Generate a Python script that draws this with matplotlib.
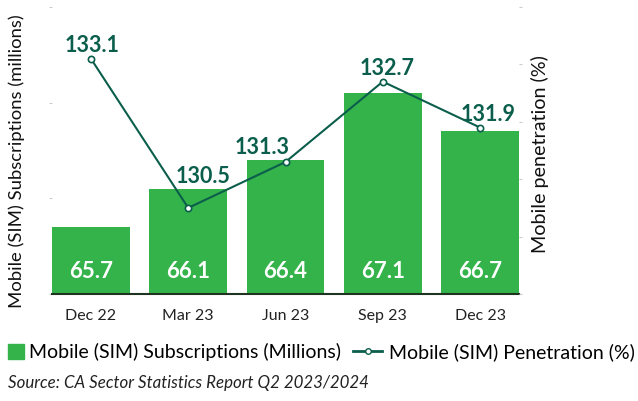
import matplotlib.pyplot as plt
import numpy as np
from matplotlib.lines import Line2D
from matplotlib.patches import Patch

# data
quarters = ["Dec 22", "Mar 23", "Jun 23", "Sep 23", "Dec 23"]
subscriptions = [65.7, 66.1, 66.4, 67.1, 66.7]
penetration = [133.1, 130.5, 131.3, 132.7, 131.9]

bar_color = "#33b34a"
line_color = "#0b5e4c"
# sideways nudge of the penetration labels (points) so they clear the line
label_dx = [0.5, 11, -16.5, 3, 6]

plt.rcParams['font.family'] = ['Lato', 'DejaVu Sans']

fig = plt.figure(figsize=(6.38, 4.01), dpi=100)
ax = fig.add_axes([52 / 638, 1 - 294 / 401, 467 / 638, 287 / 401])
ax2 = ax.twinx()

x = np.arange(len(quarters))
ax.bar(x, subscriptions, width=0.8, color=bar_color, zorder=2)
ax.set_xlim(-0.4, len(quarters) - 0.6)
ax.set_ylim(65, 68)
ax.set_yticks([65, 66, 67, 68])
ax.set_xticks(x)
ax.set_xticklabels(quarters, fontsize=11.5)
ax.tick_params(axis='x', length=0, pad=11, colors='#222222')
ax.tick_params(axis='y', length=2, color='#cccccc', labelleft=False)

for xi, v in zip(x, subscriptions):
    ax.text(xi, 65.23, f"{v}", ha='center', va='center', color='white',
            fontsize=16, fontweight='bold')

ax2.plot(x, penetration, color=line_color, lw=1.5, marker='o', ms=4.5,
         mfc='white', mec=line_color, mew=1.2, zorder=3)
ax2.set_ylim(129, 134)
ax2.set_yticks([129, 130, 131, 132, 133, 134])
ax2.tick_params(axis='y', length=2, color='#cccccc', labelright=False)

# label sits above the marker, or above the bar when the bar is higher
l0, l1 = ax.get_ylim()
r0, r1 = ax2.get_ylim()
for xi, v, s, dx in zip(x, penetration, subscriptions, label_dx):
    bar_top = r0 + (s - l0) / (l1 - l0) * (r1 - r0)
    ax2.annotate(f"{v}", (xi, max(v, bar_top)), xytext=(dx, 4.5), textcoords='offset points',
                 ha='center', va='baseline', color=line_color,
                 fontsize=15.5, fontweight='bold')

for a in (ax, ax2):
    for s in ("top", "left", "right", "bottom"):
        a.spines[s].set_visible(False)
ax.spines["bottom"].set_visible(True)
ax.spines["bottom"].set_color("#1e3320")
ax.spines["bottom"].set_linewidth(1.5)

fig.text(17 / 638, 1 - 161 / 401, "Mobile (SIM) Subscriptions (millions)",
         rotation=90, ha='center', va='center', fontsize=13.3, color='#111111')
fig.text(540 / 638, 1 - 154 / 401, "Mobile penetration (%)",
         rotation=90, ha='center', va='center', fontsize=14.2, color='#111111')

fig.legend([Patch(color=bar_color)], ["Mobile (SIM) Subscriptions (Millions)"],
           loc='center left', bbox_to_anchor=(8 / 638, 1 - 352 / 401),
           frameon=False, fontsize=14, handlelength=0.8, handleheight=0.8,
           handletextpad=0.3, borderaxespad=0, borderpad=0)
fig.legend([Line2D([0], [0], color=line_color, lw=2, marker='o', ms=4,
                   mfc='white', mec=line_color)],
           ["Mobile (SIM) Penetration (%)"],
           loc='center left', bbox_to_anchor=(353 / 638, 1 - 352 / 401),
           frameon=False, fontsize=14, handlelength=1.5,
           handletextpad=0.35, borderaxespad=0, borderpad=0)

fig.text(8 / 638, 1 - 383 / 401, "Source: CA Sector Statistics Report Q2 2023/2024",
         fontsize=12.2, style='italic', color='#222222', va='center')

fig.savefig("out.png", dpi=100)
